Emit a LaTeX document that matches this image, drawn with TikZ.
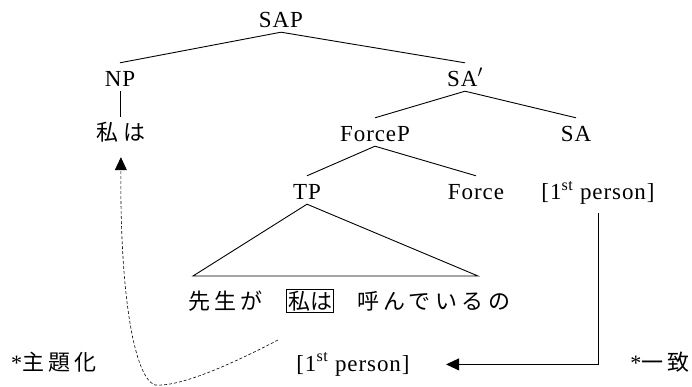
\documentclass[tikz,border=0pt]{standalone}
\usepackage{fontspec}
\setmainfont{Liberation Serif}[LetterSpace=4]
\newfontfamily\jp{Noto Sans CJK JP}[LetterSpace=20]
\newfontfamily\jpbox{Noto Sans CJK JP}
\usetikzlibrary{positioning,arrows.meta}
\tikzset{
>={Triangle[length=13pt,width=12pt]},
  every node/.style={font=\fontsize{23}{27}\selectfont},
  cat/.style={anchor=base, inner sep=2pt, text height=22pt, text depth=2pt},
  word/.style={anchor=base, font=\fontsize{22}{26}\selectfont\jp},
  sent/.style={word, inner sep=1pt},
  marked/.style={anchor=base, draw, line width=0.8pt, inner sep=1.5pt,
    font=\fontsize{22}{26}\selectfont\jpbox},
  branch/.style={draw, line width=0.9pt},
  move/.style={draw, densely dashed, line width=0.6pt, ->},
  agree/.style={draw, line width=0.9pt, ->},
}
\begin{document}
\begin{tikzpicture}[x=1pt,y=-1pt]
  \useasboundingbox (0,0) rectangle (692,387);
  % the tree itself
  \node[cat] (SAP) at (281,28) {SAP};
  \node[cat] (NP) at (120,87) {NP};
  \node[cat] (SAbar) at (465,87) {SA$'$};
  \node[cat,word] (wa1) at (121,141) {私は};
  \node[cat] (ForceP) at (375,142) {ForceP};
  \node[cat] (SA) at (576,142) {SA};
  \node[cat] (TP) at (307,200) {TP};
  \node[cat] (Force) at (476,200) {Force};
  \node[cat] (per1) at (598,200) {[1\textsuperscript{st} person]};
  \draw[branch] (SAP.south) -- (NP.north);
  \draw[branch] (SAP.south) -- (SAbar.north);
  \draw[branch] (NP.south) -- (NP.south |- wa1.north);
  \draw[branch] (SAbar.south) -- (ForceP.north);
  \draw[branch] (SAbar.south) -- (SA.north);
  \draw[branch] (ForceP.south) -- (TP.north);
  \draw[branch] (ForceP.south) -- (Force.north);
  % the TP triangle and the sentence under it
  \coordinate (tl) at (193,276);
  \coordinate (tr) at (478,276);
  \draw[branch] (TP.south) -- (tl) -- (tr) -- cycle;
  \node[marked] (wa2) at (310,309) {私は};
  \node[sent, base left=22pt of wa2] (s1) {先生が};
  \node[sent, base right=22pt of wa2] (s2) {呼んでいるの};
  % bottom row
  \node[word] (topic) at (54,370) {{\rmfamily *}主題化};
  \node[anchor=base] (per2) at (353,371) {[1\textsuperscript{st} person]};
  \node[word] (agr) at (660,370) {{\rmfamily *}一致};
  %% agreement arrow, square corner
  \draw[agree, shorten <=9pt, shorten >=33pt] (per1.south) |- (per2.east);
  %% topicalisation, dashed
  \coordinate (st) at (278,340);
  \draw[move, shorten >=12pt] (st) .. controls (230,365) and (180,387) .. (155,385)
    .. controls (135,378) and (120,300) .. (wa1.south);
\end{tikzpicture}
\end{document}
